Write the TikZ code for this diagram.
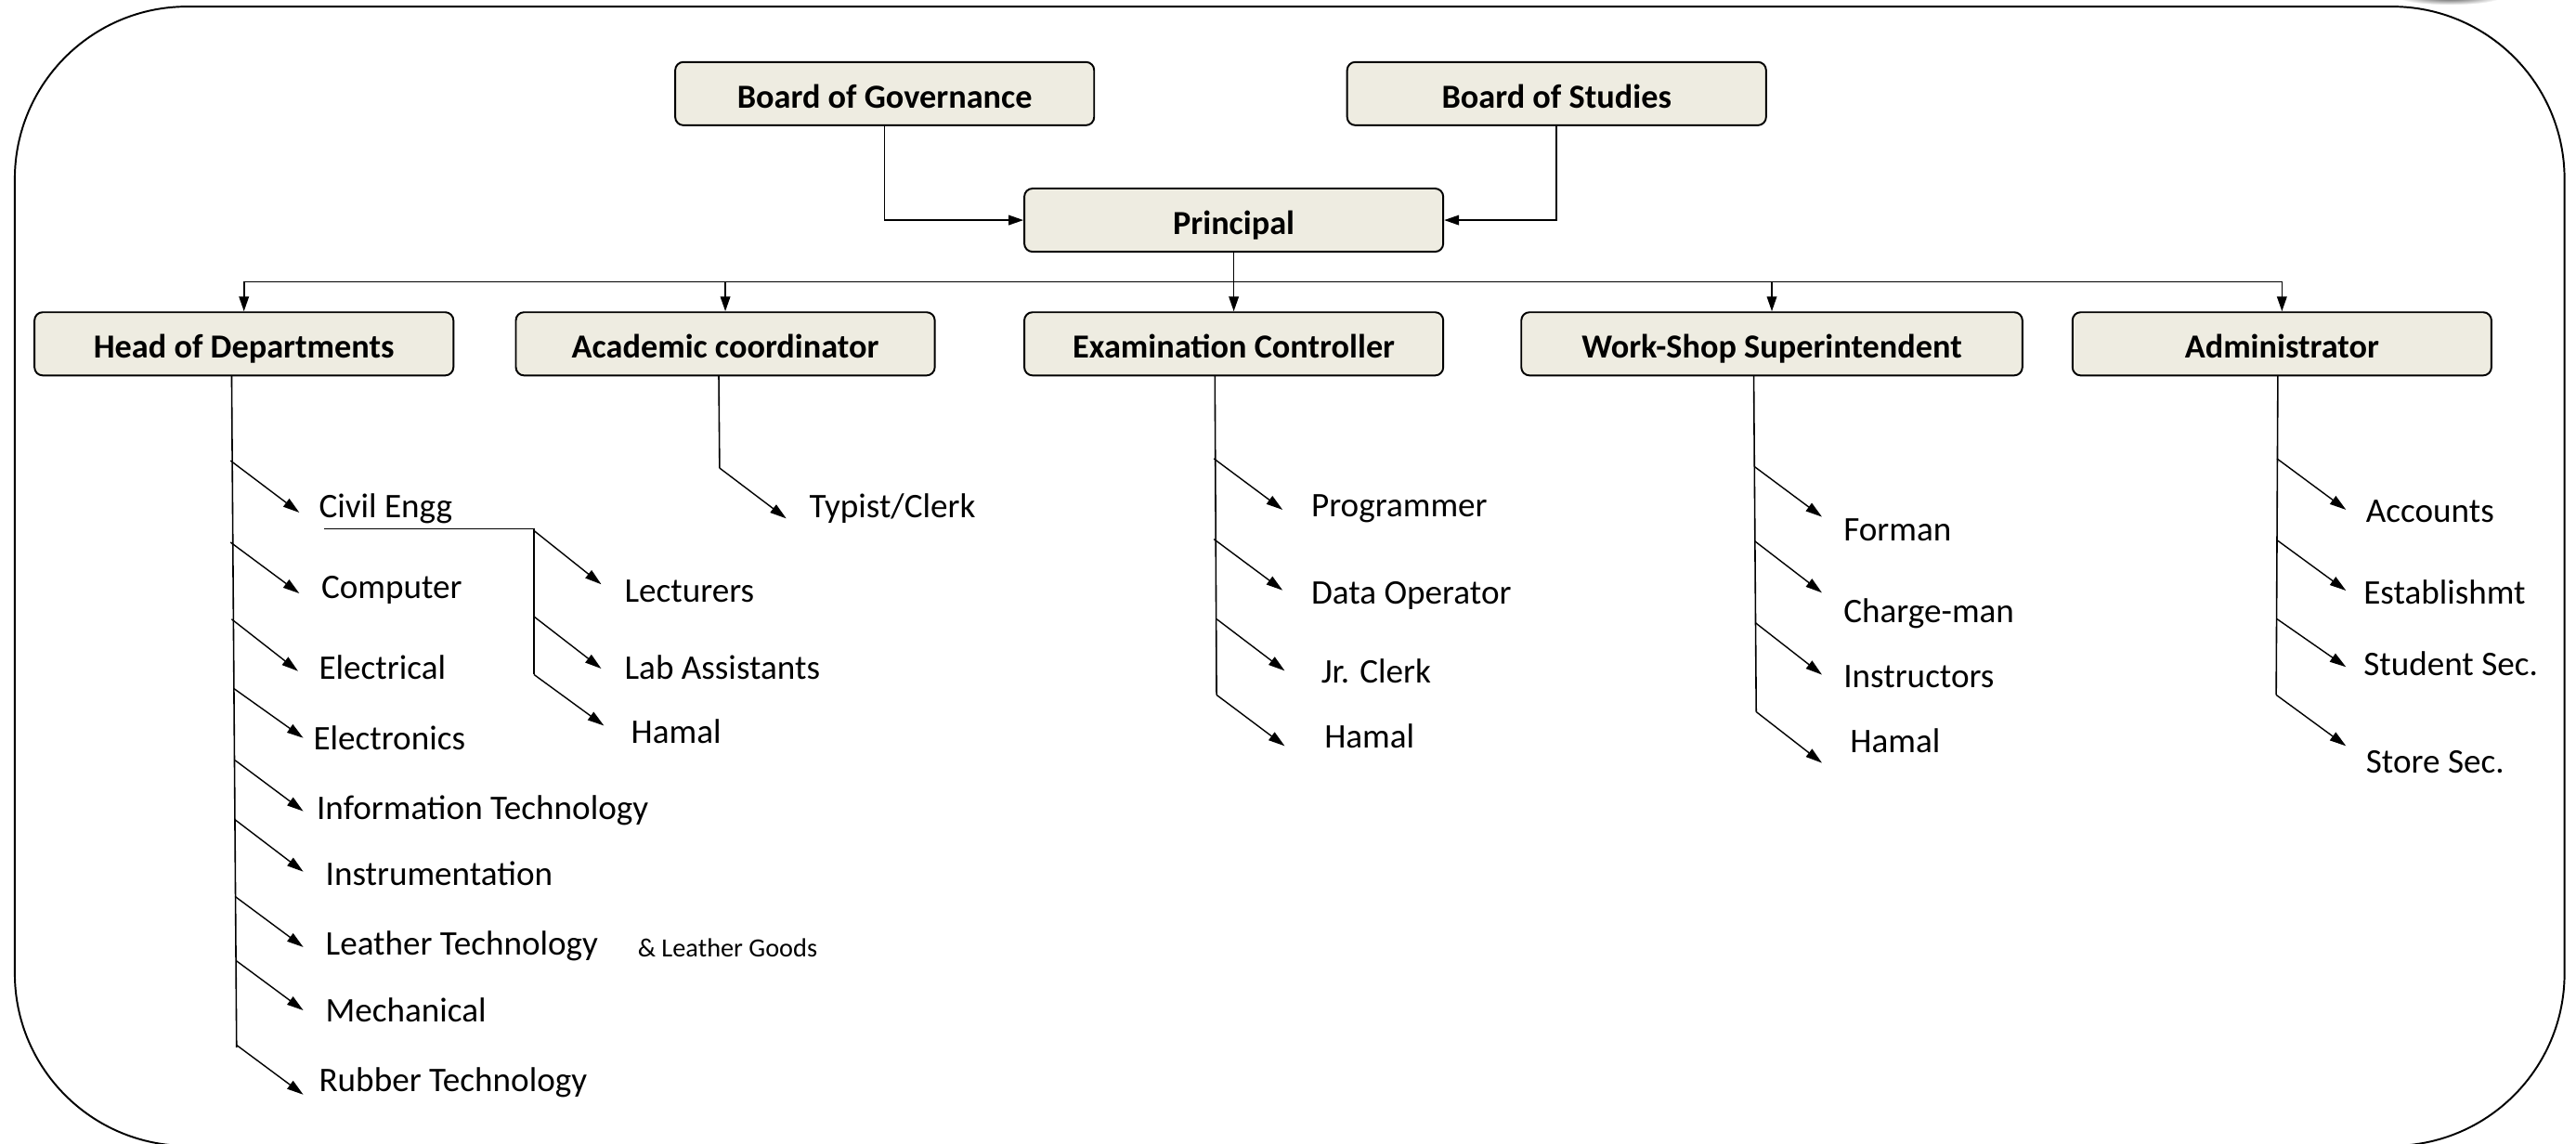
\documentclass[tikz,border=0pt]{standalone}
\usepackage{fontspec}
\setmainfont{Carlito}
\usetikzlibrary{arrows.meta}
\definecolor{boxfill}{HTML}{EEECE1}
\newcommand\branch[8]{%
  \coordinate (#1s) at (#2,#3);
  \coordinate (#1t) at (#4,#5);
  \node[lbl] (#1) at (#6,#7+7) {#8};
  \draw[darr] (#1s) -- (#1t);
}
\begin{document}
\begin{tikzpicture}[x=1pt,y=-1pt,
  box/.style={draw=black,line width=1.1pt,fill=boxfill,rounded corners=5pt,
    minimum width=255pt,minimum height=38.5pt,inner sep=0pt,
    text height=17.5pt,text depth=0pt,
    font=\fontsize{20.5}{24}\selectfont\bfseries},
  lbl/.style={anchor=base west,inner sep=0pt,font=\fontsize{21}{25}\selectfont},
  small/.style={anchor=base west,inner sep=0pt,font=\fontsize{16}{19}\selectfont},
  conn/.style={line width=0.9pt},
  arr/.style={line width=0.9pt,-{Triangle[length=9pt,width=6pt]}},
  darr/.style={line width=0.8pt,-{Triangle[length=10pt,width=6pt]}}]
\useasboundingbox (0,0) rectangle (1568,696);
% outer frame
\draw[line width=1.1pt,rounded corners=105pt] (9,4) rectangle (1561,697.5);
\shade[inner color=black!75,outer color=white] (1491,-2) ellipse [x radius=32pt,y radius=5pt];
% boxes
\node[box] (bog) at (538.5,57) {Board of Governance};
\node[box] (bos) at (947.5,57) {Board of Studies};
\node[box] (prin) at (751,134) {Principal};
\node[box] (hod) at (148.5,209.3) {Head of Departments};
\node[box] (acad) at (441.5,209.3) {Academic coordinator};
\node[box] (exam) at (751,209.3) {Examination Controller};
\node[box,minimum width=305pt] (ws) at (1078.5,209.3) {Work-Shop Superintendent};
\node[box] (adm) at (1389,209.3) {Administrator};
% main connectors
\draw[arr] (bog.south) |- (prin.west);
\draw[arr] (bos.south) |- (prin.east);
\draw[conn] (prin.south) -- (751,171.5) coordinate (bus);
\foreach \n in {hod,acad,exam,ws,adm} \draw[arr] (bus) -| (\n.north);
% Head of Departments
\coordinate (hodA) at (141,228.5);
\coordinate (hodB) at (144,637.6);
\draw[conn] (hodA) -- (hodB);
\branch{civ}{140.3}{280.4}{182.2}{312.0}{194}{308.1}{Civil Engg}
\branch{comp}{140.3}{330.1}{182.2}{361.2}{195.4}{357.3}{Computer}
\branch{elec}{141}{376.9}{181.4}{408.5}{194}{406.4}{Electrical}
\branch{etc}{142.3}{419.1}{184.6}{449.2}{190.6}{449.2}{Electronics}
\branch{it}{143.1}{462.8}{184.6}{493.8}{192.6}{492}{Information Technology}
\branch{inst}{143.1}{499}{184.6}{530.6}{198}{532.1}{Instrumentation}
\branch{lea}{143.1}{545.7}{184.6}{576.5}{198}{574.3}{Leather Technology}
\branch{mech}{143.9}{584.9}{184.6}{615}{198}{615}{Mechanical}
\branch{rub}{143.9}{636.1}{184.6}{666.3}{194}{657.3}{Rubber Technology}
\node[small] (leag) at (388,582.5) {\& Leather Goods};
% Civil sub-branch
\coordinate (civA) at (197.4,322);
\coordinate (civB) at (325,322);
\coordinate (civC) at (325,410.6);
\draw[conn] (civA) -- (civB) -- (civC);
\branch{lect}{325}{323}{366}{355.7}{380}{359.7}{Lecturers}
\branch{lab}{325}{375.3}{366}{407}{380}{406.4}{Lab Assistants}
\branch{hamA}{325}{410.6}{367.6}{441.7}{384}{445.6}{Hamal}
% Academic coordinator
\coordinate (acA) at (437.5,228.5);
\coordinate (acB) at (438,284.9);
\draw[conn] (acA) -- (acB);
\branch{typ}{438}{284.9}{478.6}{315.6}{492.5}{308.1}{Typist/Clerk}
% Examination Controller
\coordinate (exA) at (739.5,228.5);
\coordinate (exB) at (740.5,423);
\draw[conn] (exA) -- (exB);
\branch{prog}{738.9}{279.2}{780.7}{310.3}{798}{307.7}{Programmer}
\branch{dop}{738.9}{328.2}{780.7}{359.3}{798}{360.8}{Data Operator}
\branch{jrc}{740.5}{376.8}{782}{408.3}{804}{408.9}{Jr. Clerk}
\branch{hamB}{740.5}{423}{782}{454.1}{806}{448.4}{Hamal}
% Work-Shop Superintendent
\coordinate (wsA) at (1067.5,228.5);
\coordinate (wsB) at (1069,433.3);
\draw[conn] (wsA) -- (wsB);
\branch{form}{1068}{284.1}{1109}{314.6}{1122}{322.2}{Forman}
\branch{chg}{1068}{329.3}{1109}{360.8}{1122}{372.1}{Charge-man}
\branch{instr}{1068.5}{379.1}{1109}{410.7}{1122}{411.7}{Instructors}
\branch{hamC}{1069}{433.3}{1109}{464.4}{1126}{451.2}{Hamal}
% Administrator
\coordinate (adA) at (1386.5,228.5);
\coordinate (adB) at (1385.5,423);
\draw[conn] (adA) -- (adB);
\branch{acc}{1386}{279.2}{1428}{310.3}{1440}{310.9}{Accounts}
\branch{est}{1386}{328.8}{1428}{359.5}{1438.5}{360.8}{Establishmt}
\branch{stu}{1386}{376.8}{1428}{406}{1438.5}{404.1}{Student Sec.}
\branch{sto}{1385.5}{423}{1428}{454.1}{1440}{463.5}{Store Sec.}
\end{tikzpicture}
\end{document}
